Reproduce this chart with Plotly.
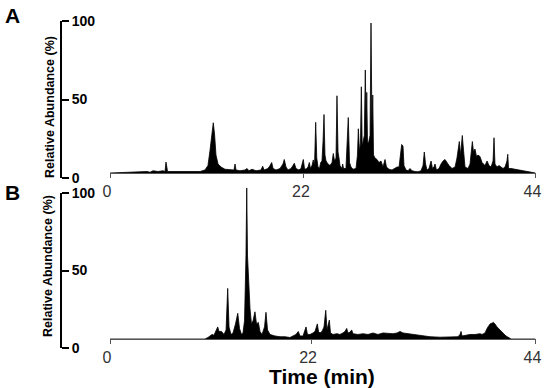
import plotly.graph_objects as go

# ---------------- data ----------------
# Panel A: chromatogram outline, retention time (min) vs relative abundance (%)
time_a = [0, 3.10, 3.83, 4.14, 4.45, 4.96, 5.48, 5.69, 5.79, 5.95, 6.72, 7.76, 8.79, 9.31, 9.82,
          10.13, 10.34, 10.55, 10.68, 10.81, 10.96, 11.17, 11.48, 11.89, 12.41, 12.82, 12.93, 13.03,
          13.44, 13.96, 14.17, 14.37, 14.68, 15.10, 15.61, 15.79, 15.93, 16.34, 16.55, 16.72, 16.86,
          17.17, 17.58, 17.89, 18.02, 18.20, 18.41, 18.72, 18.92, 19.06, 19.23, 19.54, 19.75, 19.99,
          20.11, 20.27, 20.48, 20.61, 20.73, 20.89, 21.02, 21.15, 21.27, 21.38, 21.51, 21.66, 21.79,
          21.92, 22.03, 22.13, 22.23, 22.34, 22.54, 22.75, 22.96, 23.09, 23.22, 23.37, 23.47, 23.58,
          23.68, 23.78, 23.99, 24.06, 24.15, 24.40, 24.64, 24.77, 24.92, 25.13, 25.44, 25.59, 25.68,
          25.80, 25.90, 25.99, 26.08, 26.16, 26.30, 26.40, 26.49, 26.55, 26.63, 26.73, 26.89, 26.99,
          27.09, 27.17, 27.25, 27.40, 27.61, 27.82, 28.02, 28.23, 28.44, 28.59, 28.85, 29.16, 29.47,
          29.68, 29.89, 30.04, 30.16, 30.30, 30.40, 30.61, 30.82, 31.02, 31.23, 31.54, 31.85, 32.16,
          32.37, 32.50, 32.63, 32.78, 32.99, 33.20, 33.35, 33.50, 33.61, 33.76, 34.02, 34.23, 34.44,
          34.64, 34.85, 35.06, 35.37, 35.68, 35.88, 36.04, 36.12, 36.25, 36.43, 36.56, 36.71, 37.02,
          37.23, 37.47, 37.59, 37.74, 37.90, 38.05, 38.26, 38.47, 38.78, 38.99, 39.19, 39.40, 39.61,
          39.71, 39.81, 40.02, 40.23, 40.43, 40.64, 40.85, 41.05, 41.13, 41.21, 41.47, 41.88, 42.40,
          42.92, 43.43, 43.74, 44.00]
abund_a = [0, 0.5, 1, 0.5, 1.5, 1, 1.5, 1, 7.3, 1, 1, 1, 0.8, 1, 2,
           5, 15, 28, 33.5, 26, 12, 6, 4, 2.5, 2, 2, 6, 2,
           1.5, 2, 3, 1.5, 2.5, 1.5, 2, 4.5, 2, 3, 5, 7, 3,
           2, 3, 6, 9, 4, 2, 3, 5, 6.5, 3, 2, 3, 9,
           3, 2.5, 4, 7, 3, 5, 8.7, 5, 33.8, 10, 4, 3, 7,
           8, 21, 39, 12, 8, 6, 5, 7, 13, 8, 10, 51.5, 14,
           10, 5, 3, 6, 3, 3, 37, 7, 4, 2.5, 3, 12, 29.5,
           14, 20, 57.5, 18, 20, 25, 68.7, 30, 53.7, 20, 20, 25, 100,
           30, 52, 12, 10, 9, 7, 8, 4, 9, 4, 2.5, 2, 3,
           4, 4, 12, 19, 18, 5, 2, 1.5, 3, 1.5, 1, 0.8, 1.5,
           5, 14, 6, 2, 3, 8, 3, 4, 6, 2, 3, 6, 8,
           9, 7, 5, 3, 4, 10, 18, 21, 12, 25, 15, 4, 3,
           6, 21, 14, 16, 11, 12, 11, 7, 5, 8, 5, 4, 8,
           23.5, 6, 4, 5, 4, 3, 4, 8, 12.5, 3, 3, 2.5, 2,
           1.5, 1, 0.5, 0]

# Panel B
time_b = [0, 9.82, 10.13, 10.55, 10.75, 11.14, 11.27, 11.53, 11.79, 12.00, 12.17, 12.31, 12.51,
          12.72, 12.98, 13.21, 13.39, 13.60, 13.75, 13.91, 14.06, 14.14, 14.22, 14.32, 14.48, 14.63,
          14.79, 14.99, 15.15, 15.34, 15.51, 15.72, 15.98, 16.13, 16.29, 16.55, 17.06, 17.58, 18.10,
          18.61, 19.03, 19.23, 19.47, 19.65, 19.96, 20.27, 20.42, 20.68, 20.99, 21.20, 21.44, 21.56,
          21.72, 21.92, 22.13, 22.31, 22.44, 22.68, 22.80, 23.06, 23.47, 23.78, 24.09, 24.30, 24.48,
          24.61, 24.82, 24.99, 25.13, 25.65, 26.16, 26.68, 27.20, 27.71, 28.23, 28.75, 29.27, 29.68,
          29.99, 30.30, 30.82, 31.33, 31.85, 32.37, 33.09, 34.13, 35.16, 35.99, 36.19, 36.30, 36.40,
          36.81, 37.23, 37.74, 38.26, 38.47, 38.78, 38.99, 39.30, 39.50, 39.64, 39.81, 40.02, 40.33,
          40.64, 40.95, 41.26, 41.47, 44.00]
abund_b = [0, 0, 1, 3, 2.5, 8, 5, 5, 3, 6, 33.5, 8, 3,
           4, 10, 17, 7, 3, 4, 12, 55, 100, 55, 39, 20, 10,
           12, 18, 10, 11, 5, 3, 8, 17.7, 6, 3, 2, 1.5, 1.5,
           1, 2, 3, 5, 2, 2, 8, 3, 3, 4, 5, 10, 5,
           4, 5, 8, 19, 6, 12.5, 4, 3, 3.5, 3, 4, 5, 7,
           4, 4.5, 6, 3.5, 3, 3.5, 3, 4, 3, 4, 3.5, 3.5, 4,
           5, 4, 3.5, 3, 2.5, 1.8, 1.5, 1.2, 1.2, 1.5, 3, 5, 2,
           2.5, 3, 3, 3.5, 3, 4, 7, 10, 10.5, 11, 10, 8, 6,
           4, 2, 0.8, 0, 0]

time_tick_labels = ["0", "22", "44"]
# positions at which the reference draws those tick marks
time_tick_pos_a = [0, 20.06, 44]
time_tick_pos_b = [0, 20.79, 44]
abund_ticks = [0, 50, 100]

# ---------------- figure ----------------
W, H = 545, 388
def px_x(p):
    return p / W
def px_y(p):
    return 1 - p / H

fig = go.Figure()
fig.add_trace(go.Scatter(x=time_a, y=abund_a, xaxis="x", yaxis="y", mode="lines",
                         line=dict(color="black", width=0.8), fill="tozeroy",
                         fillcolor="black", hoverinfo="skip"))
fig.add_trace(go.Scatter(x=time_b, y=abund_b, xaxis="x2", yaxis="y2", mode="lines",
                         line=dict(color="black", width=0.8), fill="tozeroy",
                         fillcolor="black", hoverinfo="skip"))
# empty traces so that the abundance scale axes (brackets) get their own subplots
fig.add_trace(go.Scatter(x=[], y=[], xaxis="x", yaxis="y3", hoverinfo="skip"))
fig.add_trace(go.Scatter(x=[], y=[], xaxis="x2", yaxis="y4", hoverinfo="skip"))

xdom = [px_x(110), px_x(535.5)]
xtickfont = dict(family="Liberation Sans, Arial, sans-serif", size=16, color="#333333")
xcommon = dict(domain=xdom, range=[0, 44], anchor="free", showline=True, linecolor="#555555",
               linewidth=1, ticks="outside", ticklen=4, tickcolor="#555555", tickwidth=1,
               ticktext=time_tick_labels, showgrid=False, zeroline=False, tickfont=xtickfont,
               ticklabelshift=-3, automargin=False, fixedrange=True)

ytickfont = dict(family="Liberation Sans, Arial, sans-serif", size=14, color="black", weight="bold")
ybracket = dict(anchor="free", position=px_x(61), side="right", range=[0, 100],
                tickvals=abund_ticks, showline=True, linecolor="black", linewidth=2,
                ticks="outside", ticklen=7, tickwidth=2, tickcolor="black",
                showgrid=False, zeroline=False, tickfont=ytickfont, automargin=False,
                fixedrange=True)

fig.update_layout(
    width=W, height=H, margin=dict(l=0, r=0, t=0, b=0, autoexpand=False),
    paper_bgcolor="white", plot_bgcolor="rgba(0,0,0,0)", showlegend=False, hovermode=False,
    xaxis=dict(xcommon, position=px_y(173), tickvals=time_tick_pos_a),
    xaxis2=dict(xcommon, position=px_y(339), tickvals=time_tick_pos_b),
    yaxis=dict(domain=[px_y(178), px_y(21)], range=[-3.33, 101.33], visible=False,
               automargin=False, fixedrange=True),
    yaxis2=dict(domain=[px_y(348), px_y(186)], range=[-5.96, 101.3], visible=False,
                automargin=False, fixedrange=True),
    yaxis3=dict(ybracket, domain=[px_y(178), px_y(21)]),
    yaxis4=dict(ybracket, domain=[px_y(348), px_y(193)]),
)

lab = dict(family="Liberation Sans, Arial, sans-serif", color="black", weight="bold")
fig.add_annotation(text="A", x=px_x(12.5), y=px_y(16), xref="paper", yref="paper",
                   showarrow=False, font=dict(lab, size=21), xanchor="center", yanchor="middle")
fig.add_annotation(text="B", x=px_x(12.5), y=px_y(192), xref="paper", yref="paper",
                   showarrow=False, font=dict(lab, size=21), xanchor="center", yanchor="middle")
fig.add_annotation(text="Relative Abundance (%)", x=px_x(50), y=px_y(107), xref="paper",
                   yref="paper", showarrow=False, textangle=-90, font=dict(lab, size=12.5),
                   xanchor="center", yanchor="middle")
fig.add_annotation(text="Relative Abundance (%)", x=px_x(48), y=px_y(266), xref="paper",
                   yref="paper", showarrow=False, textangle=-90, font=dict(lab, size=12.5),
                   xanchor="center", yanchor="middle")
fig.add_annotation(text="Time (min)", x=px_x(322), y=px_y(376), xref="paper", yref="paper",
                   showarrow=False, font=dict(lab, size=21), xanchor="center", yanchor="middle")

# the page's default 8px body margin would push the 545x388 figure out of the window
fig.write_html("out.html", config={"displayModeBar": False, "staticPlot": True},
               post_script="document.body.style.margin='0';document.body.style.overflow='hidden';")
